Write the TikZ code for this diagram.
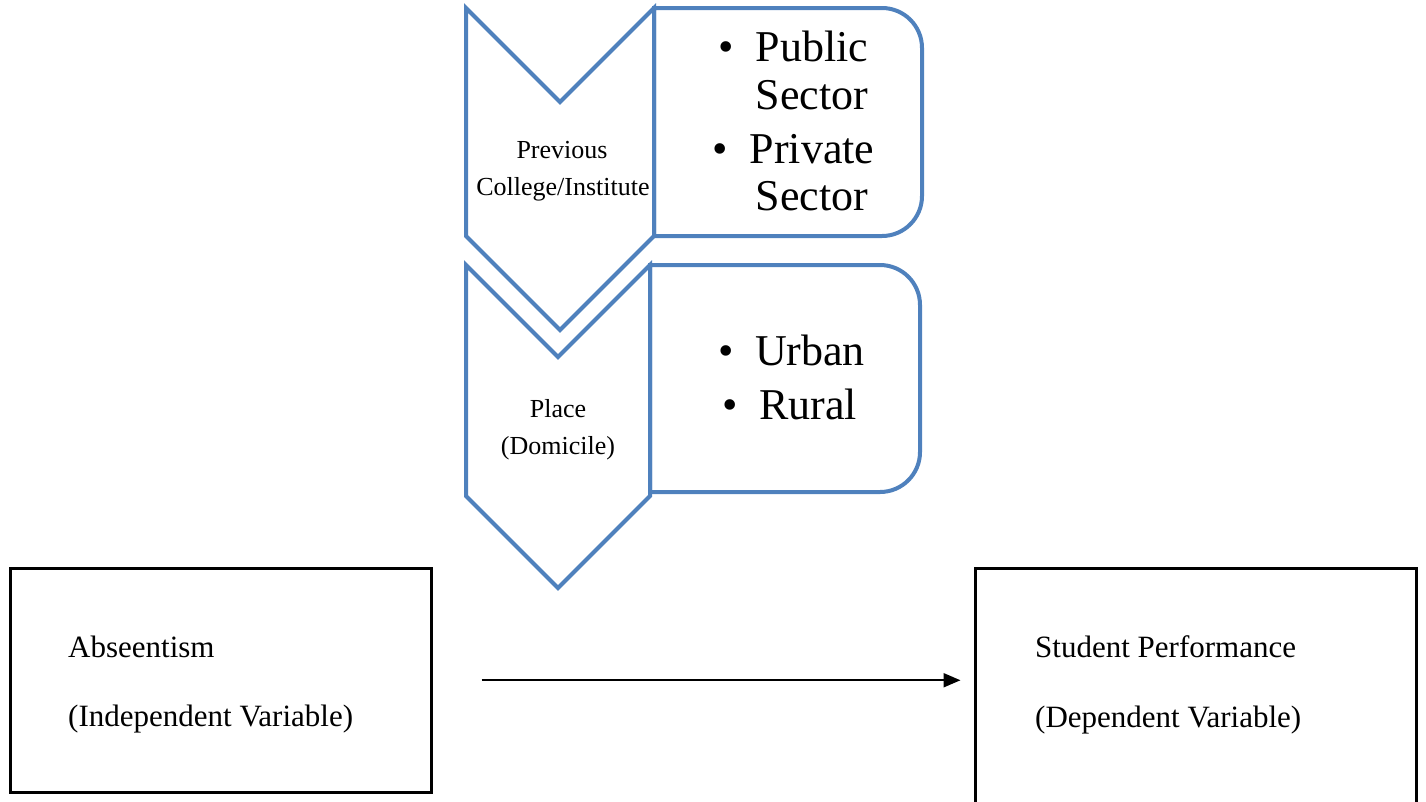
\documentclass[tikz,border=0pt]{standalone}
\usepackage{fontspec}
\setmainfont{Liberation Serif}
\usetikzlibrary{arrows.meta}
\definecolor{chevblue}{HTML}{4F81BD}
\begin{document}
\begin{tikzpicture}[x=1pt,y=1pt,
  blueshape/.style={draw=chevblue, line width=4pt, line join=miter},
  blackbox/.style={draw=black, line width=3pt, inner sep=0pt},
  smalltxt/.style={font=\fontsize{26}{37}\selectfont, inner sep=0pt, anchor=base},
  bigtxt/.style={font=\fontsize{44}{48}\selectfont, inner sep=0pt, anchor=base},
  bullettxt/.style={font=\fontsize{44}{48}\selectfont, inner sep=0pt, anchor=base},
  boxtxt/.style={font=\fontsize{31}{37}\selectfont, inner sep=0pt, anchor=base west},
  arr/.style={-{Triangle[length=17pt,width=14pt]}, line width=2pt}]
\useasboundingbox (0,0) rectangle (1426,-801);

% chevrons
\draw[blueshape] (466,-8) -- (560,-102) -- (654,-8) -- (654,-236) -- (560,-330) -- (466,-236) -- cycle;
\draw[blueshape] (466,-265) -- (558,-357) -- (650,-265) -- (650,-496) -- (558,-588) -- (466,-496) -- cycle;

% rounded boxes
\draw[blueshape] (654,-8) -- (882,-8) arc[start angle=90, end angle=0, radius=40] -- (922,-196) arc[start angle=0, end angle=-90, radius=40] -- (654,-236) -- cycle;
\draw[blueshape] (650,-265) -- (880,-265) arc[start angle=90, end angle=0, radius=40] -- (920,-452) arc[start angle=0, end angle=-90, radius=40] -- (650,-492) -- cycle;

% chevron texts
\node[smalltxt] (prev1) at (562,-158) {Previous};
\node[smalltxt] (prev2) at (563,-195) {College/Institute};
\node[smalltxt] (place1) at (558,-417) {Place};
\node[smalltxt] (place2) at (558,-454) {(Domicile)};

% bullet texts
\node[bigtxt] (pub) at (812,-61) {Public};
\node[bigtxt] (pubs) at (812,-109) {Sector};
\node[bigtxt] (pri) at (812,-163) {Private};
\node[bigtxt] (pris) at (812,-210) {Sector};
\node[bullettxt] (bpub) at ([xshift=-29pt]pub.base west) {•};
\node[bullettxt] (bpri) at ([xshift=-29pt]pri.base west) {•};
\node[bigtxt] (urb) at (810,-365) {Urban};
\node[bigtxt] (rur) at (808,-419) {Rural};
\node[bullettxt] (burb) at ([xshift=-29pt]urb.base west) {•};
\node[bullettxt] (brur) at ([xshift=-29pt]rur.base west) {•};

% black boxes
\node[blackbox, minimum width=421pt, minimum height=223.5pt] (absent) at (221,-680.25) {};
\node[blackbox, minimum width=441pt, minimum height=261.5pt] (perf) at (1196,-699.25) {};
\node[boxtxt] (abs1) at (68,-657) {Abseentism};
\node[boxtxt] (abs2) at (68,-726) {(Independent Variable)};
\node[boxtxt] (perf1) at (1035,-657) {Student Performance};
\node[boxtxt] (perf2) at (1035,-727) {(Dependent Variable)};

\draw[arr, shorten <=48.5pt, shorten >=13.5pt] (absent.east) -- (perf.west |- absent.east);
\end{tikzpicture}
\end{document}
